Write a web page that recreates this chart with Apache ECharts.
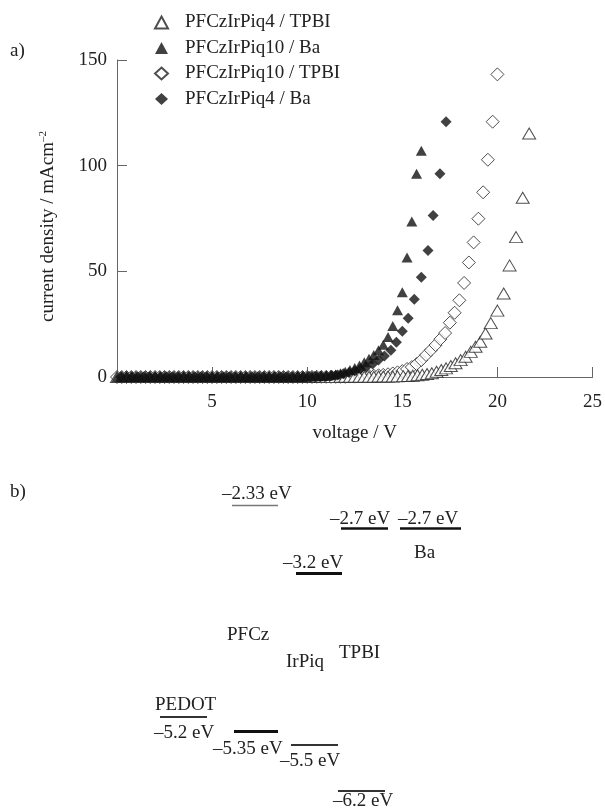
<!DOCTYPE html>
<html>
<head>
<meta charset="utf-8">
<script src="https://cdn.jsdelivr.net/npm/echarts@6/dist/echarts.min.js"></script>
<style>
html,body{margin:0;padding:0;background:#fff;}
#chart{width:605px;height:810px;}
</style>
</head>
<body>
<div id="chart"></div>
<script>
// ---- data (voltage in V, current density in mA/cm2) ----
const seriesNames = ['PFCzIrPiq4 / TPBI', 'PFCzIrPiq10 / Ba', 'PFCzIrPiq10 / TPBI', 'PFCzIrPiq4 / Ba'];

const voltsIrPiq4TPBI = [0,0.25,0.5,0.75,1,1.25,1.5,1.75,2,2.25,2.5,2.75,3,3.25,3.5,3.75,4,4.25,4.5,4.75,
  5,5.25,5.5,5.75,6,6.25,6.5,6.75,7,7.25,7.5,7.75,8,8.25,8.5,8.75,9,9.25,9.5,9.75,
  10,10.25,10.5,10.75,11,11.25,11.5,11.75,12,12.25,12.5,12.75,13,13.25,13.5,13.75,14,14.25,14.5,14.75,
  15.05,15.3,15.55,15.8,16.05,16.3,16.55,16.8,17.05,17.3,17.55,17.8,18.07,18.33,18.6,18.85,19.1,19.375,19.65,20,
  20.33,20.64,20.98,21.33,21.67];
const curIrPiq4TPBI = [0,0,0,0,0,0,0,0,0,0,0,0,0,0,0,0,0,0,0,0,
  0,0,0,0,0,0,0,0,0,0,0,0,0,0,0,0,0,0,0,0,
  0,0,0,0,0.05,0.05,0.05,0.1,0.1,0.1,0.1,0.1,0.1,0.15,0.15,0.2,0.2,0.2,0.25,0.3,
  0.4,0.5,0.6,0.8,1.1,1.4,1.8,2.5,3.3,4.1,5.2,6.5,8.0,9.6,11.9,14.3,16.7,20.6,25.5,31.4,
  39.5,52.8,66.2,84.8,115.2];

const voltsIrPiq10Ba = [0,0.25,0.5,0.75,1,1.25,1.5,1.75,2,2.25,2.5,2.75,3,3.25,3.5,3.75,4,4.25,4.5,4.75,
  5,5.25,5.5,5.75,6,6.25,6.5,6.75,7,7.25,7.5,7.75,8,8.25,8.5,8.75,9,9.25,9.5,9.75,
  10,10.25,10.5,10.75,11,11.25,11.5,11.75,12,12.25,12.5,12.75,13,13.25,13.5,13.75,14,14.25,14.5,14.75,
  15,15.25,15.5,15.75,16];
const curIrPiq10Ba = [0,0,0,0,0,0,0,0,0,0,0,0,0,0,0,0,0,0,0,0,
  0,0,0,0,0,0,0,0,0,0,0,0,0,0,0,0,0,0,0,0,
  0.1,0.2,0.3,0.4,0.5,0.8,1.2,1.8,2.5,3.3,4.3,5.5,7.0,8.6,10.4,12.6,15.3,18.9,24.1,31.6,
  40.1,56.6,73.6,96.2,107.1];

const voltsIrPiq10TPBI = [0,0.25,0.5,0.75,1,1.25,1.5,1.75,2,2.25,2.5,2.75,3,3.25,3.5,3.75,4,4.25,4.5,4.75,
  5,5.25,5.5,5.75,6,6.25,6.5,6.75,7,7.25,7.5,7.75,8,8.25,8.5,8.75,9,9.25,9.5,9.75,
  10,10.25,10.5,10.75,11,11.25,11.5,11.75,12,12.25,12.5,12.75,13,13.25,13.5,13.75,14,14.25,14.5,14.75,
  15,15.25,15.5,15.75,16,16.25,16.5,16.75,17,17.25,17.5,17.75,18,18.25,18.5,18.75,19,19.25,19.5,19.75,20];
const curIrPiq10TPBI = [0,0,0,0,0,0,0,0,0,0,0,0,0,0,0,0,0,0,0,0,
  0,0,0,0,0,0,0,0,0,0,0,0,0,0,0,0,0,0,0,0,
  0.05,0.05,0.1,0.1,0.1,0.1,0.1,0.1,0.1,0.2,0.2,0.3,0.4,0.5,0.6,0.8,1.0,1.3,1.7,2.2,
  2.8,3.8,4.7,6.1,8.0,10.4,12.7,15.1,17.9,20.8,25.7,30.4,36.3,44.5,54.2,63.7,74.9,87.4,102.8,120.8,143.2];

const voltsIrPiq4Ba = [0.2,0.5,0.8,1.1,1.4,1.7,2,2.3,2.6,2.9,3.2,3.5,3.8,4.1,4.4,4.7,5,5.3,5.6,5.9,
  6.2,6.5,6.8,7.1,7.4,7.7,8,8.3,8.6,8.9,9.2,9.5,9.8,10.1,10.4,10.7,
  11,11.3,11.6,11.9,12.2,12.5,12.8,13.1,13.44,13.75,14.06,14.4,14.69,15,15.31,15.63,16,16.35,16.62,16.98,17.3];
const curIrPiq4Ba = [0,0,0,0,0,0,0,0,0,0,0,0,0,0,0,0,0,0,0,0,
  0,0,0,0,0,0,0,0,0,0,0,0.1,0.1,0.2,0.2,0.3,
  0.4,0.7,1.0,1.5,2.1,2.8,3.8,4.7,6.1,8.0,9.9,12.7,16.5,21.7,27.8,36.8,47.2,59.9,76.4,96.2,120.8];

// ---- energy-level diagram (part b) ----
const levelLabels = ['–2.33 eV', '–2.7 eV', '–2.7 eV', '–3.2 eV', '–5.2 eV', '–5.35 eV', '–5.5 eV', '–6.2 eV'];
const materialLabels = ['Ba', 'PFCz', 'IrPiq', 'TPBI', 'PEDOT'];

const FONT = '"Liberation Serif", "Times New Roman", serif';
const TXT = '#222';
const FS = 19;

function pairs(v, c) { return v.map((x, i) => [x, c[i]]); }

const chart = echarts.init(document.getElementById('chart'), null, {renderer: 'canvas'});

function txt(s, x, y) {
  return {type: 'text', x: x, y: y, style: {text: s, fill: TXT, font: FS + 'px ' + FONT, align: 'left', verticalAlign: 'middle'}};
}
function seg(x1, x2, y, w, col) {
  return {type: 'line', shape: {x1: x1, y1: y, x2: x2, y2: y}, style: {stroke: col || '#111', lineWidth: w}};
}

const graphics = [
  txt('a)', 10, 51),
  txt('b)', 10, 492),
  txt(levelLabels[0], 222, 494), seg(232, 278, 505.5, 1.5, '#777'),
  txt(levelLabels[1], 330, 519), seg(341, 388, 528.5, 2.5),
  txt(levelLabels[2], 398, 519), seg(400, 461, 528.5, 2.5),
  txt(materialLabels[0], 414, 553),
  txt(levelLabels[3], 283, 563), seg(296, 342, 573.5, 3),
  txt(materialLabels[1], 227, 635),
  txt(materialLabels[2], 286, 662),
  txt(materialLabels[3], 339, 653),
  txt(materialLabels[4], 155, 705), seg(160, 207, 717, 2, '#333'),
  txt(levelLabels[4], 154, 733),
  seg(234, 278, 731.5, 3),
  txt(levelLabels[5], 213, 749),
  seg(291, 338, 745, 2, '#333'),
  txt(levelLabels[6], 280, 761),
  seg(338, 385, 791, 2, '#333'),
  txt(levelLabels[7], 333, 801)
];

const openStyle = {color: '#fff', borderColor: '#222', borderWidth: 1};
const fillStyle = {color: '#111', borderColor: '#111', borderWidth: 0};

chart.setOption({
  animation: false,
  backgroundColor: '#fff',
  textStyle: {fontFamily: FONT},
  grid: {left: 117, right: 7, top: 60, bottom: 433, containLabel: false},
  legend: {
    orient: 'vertical', left: 149, top: 8, itemGap: 6.5,
    itemWidth: 13, itemHeight: 12,
    data: seriesNames,
    textStyle: {fontSize: FS, lineHeight: 19, color: TXT, fontFamily: FONT, padding: [0, 0, 0, 12]}
  },
  xAxis: {
    type: 'value', min: 0, max: 25, interval: 5,
    name: 'voltage / V', nameLocation: 'middle', nameGap: 47,
    nameTextStyle: {fontSize: FS, color: TXT, fontFamily: FONT},
    axisLine: {show: true, onZero: false, lineStyle: {color: '#666', width: 1}},
    axisTick: {show: true, inside: true, length: 10, lineStyle: {color: '#666'}},
    axisLabel: {fontSize: FS, color: TXT, fontFamily: FONT, margin: 16, formatter: v => v === 0 ? '' : String(v)},
    splitLine: {show: false}
  },
  yAxis: {
    type: 'value', min: 0, max: 150, interval: 50,
    name: 'current density / mAcm{sup|–2}', nameLocation: 'middle', nameGap: 58,
    nameTextStyle: {fontSize: FS, color: TXT, fontFamily: FONT, padding: [0, 16, 0, 0],
      rich: {sup: {fontSize: 11, fontFamily: FONT, color: TXT, verticalAlign: 'top', padding: [0, 0, 10, 0]}}},
    axisLine: {show: true, lineStyle: {color: '#666', width: 1}},
    axisTick: {show: true, inside: true, length: 10, lineStyle: {color: '#666'}},
    axisLabel: {fontSize: FS, color: TXT, fontFamily: FONT, margin: 10},
    splitLine: {show: false}
  },
  graphic: graphics,
  series: [
    {name: seriesNames[2], type: 'scatter', symbol: 'diamond', symbolSize: 13, itemStyle: openStyle, data: pairs(voltsIrPiq10TPBI, curIrPiq10TPBI)},
    {name: seriesNames[0], type: 'scatter', symbol: 'triangle', symbolSize: [13, 11], itemStyle: openStyle, data: pairs(voltsIrPiq4TPBI, curIrPiq4TPBI)},
    {name: seriesNames[3], type: 'scatter', symbol: 'diamond', symbolSize: 11, itemStyle: fillStyle, data: pairs(voltsIrPiq4Ba, curIrPiq4Ba)},
    {name: seriesNames[1], type: 'scatter', symbol: 'triangle', symbolSize: [11, 10], itemStyle: fillStyle, data: pairs(voltsIrPiq10Ba, curIrPiq10Ba)}
  ]
});
</script>
</body>
</html>
